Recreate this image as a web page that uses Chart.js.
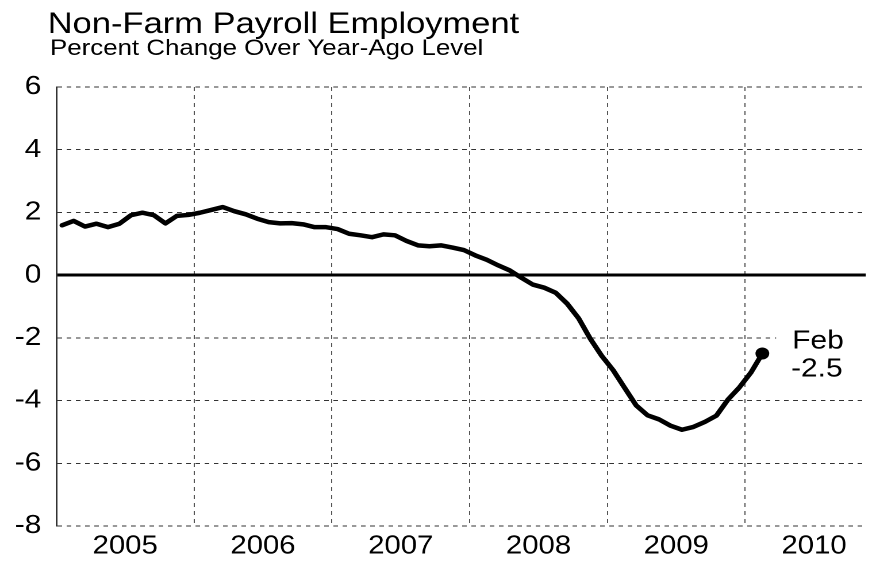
<!DOCTYPE html>
<html>
<head>
<meta charset="utf-8">
<title>Non-Farm Payroll Employment</title>
<script src="https://cdn.jsdelivr.net/npm/chart.js@4.4.1/dist/chart.umd.min.js"></script>
<style>
  html, body { margin: 0; padding: 0; background: #fff; overflow: hidden; }
  /* the chart is laid out narrow and stretched sideways to the page width */
  #wrap { width: 762px; height: 561px; transform: scaleX(1.1496); transform-origin: 0 0; }
</style>
</head>
<body>
<div id="wrap"><canvas id="payroll"></canvas></div>
<script>
// monthly % change over year-ago level, Jan 2005 .. Feb 2010
const startYear = 2005;
const monthNames = ["Jan","Feb","Mar","Apr","May","Jun","Jul","Aug","Sep","Oct","Nov","Dec"];
const values = [
  1.59, 1.73, 1.55, 1.64, 1.53, 1.64, 1.91, 1.99, 1.91, 1.65, 1.89, 1.92,
  1.99, 2.08, 2.17, 2.04, 1.94, 1.80, 1.69, 1.65, 1.66, 1.62, 1.53, 1.53,
  1.47, 1.32, 1.27, 1.21, 1.30, 1.27, 1.09, 0.95, 0.92, 0.95, 0.88, 0.80,
  0.63, 0.49, 0.31, 0.15, -0.08, -0.30, -0.40, -0.56, -0.91, -1.38, -2.02, -2.57,
  -3.03, -3.59, -4.15, -4.47, -4.60, -4.80, -4.93, -4.84, -4.68, -4.48, -3.97, -3.58,
  -3.11, -2.5
];
const yearLabels = ["2005", "2006", "2007", "2008", "2009", "2010"];
const yTicks = [-8, -6, -4, -2, 0, 2, 4, 6];

const FONT = "'Liberation Sans', Arial, Helvetica, sans-serif";

// x = month index, point sits mid-month
const points = values.map((v, i) => ({ x: i + 0.5, y: v }));
const lastIdx = values.length - 1;

// titles drawn at the top-left
const titlePlugin = {
  id: 'titles',
  afterDraw(chart) {
    const c = chart.ctx;
    c.save();
    c.fillStyle = '#000';
    c.textBaseline = 'alphabetic';
    c.textAlign = 'left';
    c.font = '30px ' + FONT;
    c.fillText('Non-Farm Payroll Employment', 41.5, 33);
    c.font = '22.5px ' + FONT;
    c.fillText('Percent Change Over Year-Ago Level', 43.5, 55);
    c.restore();
  }
};

// "Feb / -2.5" tag next to the last point
const endLabel = {
  id: 'endLabel',
  afterDatasetsDraw(chart) {
    const pt = chart.getDatasetMeta(0).data[lastIdx];
    const c = chart.ctx;
    const monthIdx = lastIdx % 12;
    const lx = pt.x + 26;
    c.save();
    c.fillStyle = '#fff';
    c.fillRect(pt.x + 12, pt.y - 27, 76, 56);
    c.fillStyle = '#000';
    c.font = '26px ' + FONT;
    c.textAlign = 'left';
    c.textBaseline = 'alphabetic';
    c.fillText(monthNames[monthIdx], lx, pt.y - 5);
    c.fillText(values[lastIdx].toFixed(1), lx - 1, pt.y + 23);
    c.restore();
  }
};

new Chart(document.getElementById('payroll'), {
  type: 'line',
  data: {
    datasets: [{
      data: points,
      borderColor: '#000',
      borderWidth: 4.5,
      borderJoinStyle: 'round',
      borderCapStyle: 'round',
      tension: 0,
      pointRadius: ctx => ctx.dataIndex === lastIdx ? 6 : 0,
      pointHoverRadius: 0,
      pointBackgroundColor: '#000',
      pointBorderWidth: 0
    }]
  },
  options: {
    responsive: true,
    maintainAspectRatio: false,
    devicePixelRatio: 2,
    animation: false,
    events: [],
    layout: { padding: { top: 87, right: 9, left: 0, bottom: 0 } },
    plugins: {
      legend: { display: false },
      tooltip: { enabled: false },
      title: { display: false }
    },
    scales: {
      x: {
        type: 'linear',
        min: 0,
        max: 70.5,
        afterBuildTicks: scale => {
          const t = [];
          for (let m = 6; m <= 66; m += 6) t.push({ value: m });
          scale.ticks = t;
        },
        afterFit: scale => { scale.height = 35; },
        ticks: {
          autoSkip: false,
          maxRotation: 0,
          padding: 5,
          color: '#000',
          font: { family: FONT, size: 25.5 },
          callback: v => (v % 12 === 6) ? yearLabels[(v - 6) / 12] : ''
        },
        grid: {
          drawTicks: false,
          lineWidth: 1,
          color: ctx => (ctx.tick && ctx.tick.value % 12 === 0) ? '#555' : 'rgba(0,0,0,0)'
        },
        border: { display: false, dash: [4, 4] }
      },
      y: {
        min: -8,
        max: 6,
        afterBuildTicks: scale => { scale.ticks = yTicks.map(v => ({ value: v })); },
        afterFit: scale => { scale.width = 49; },
        ticks: {
          padding: 13,
          color: '#000',
          font: { family: FONT, size: 26 }
        },
        grid: {
          drawTicks: false,
          color: ctx => (ctx.tick && ctx.tick.value === 0) ? '#000' : '#333',
          lineWidth: ctx => (ctx.tick && ctx.tick.value === 0) ? 3 : 1
        },
        border: {
          display: true,
          color: '#333',
          width: 1.5,
          dash: ctx => (ctx.tick && ctx.tick.value === 0) ? [] : [4, 4]
        }
      }
    }
  },
  plugins: [titlePlugin, endLabel]
});
</script>
</body>
</html>
